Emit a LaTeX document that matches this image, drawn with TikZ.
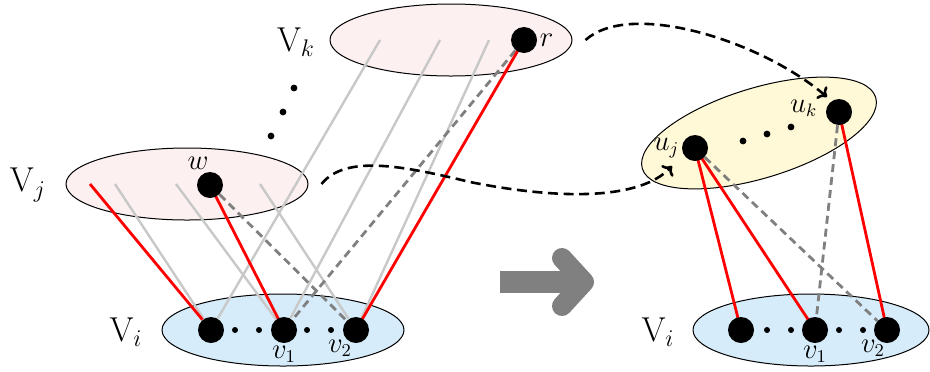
\documentclass[tikz,border=0pt]{standalone}
\usepackage{amsmath}
\usepackage{tikz}
\usetikzlibrary{arrows.meta,positioning,backgrounds,shapes.geometric}
\definecolor{setpink}{RGB}{253,240,240}
\definecolor{setblue}{RGB}{214,236,250}
\definecolor{setyellow}{RGB}{255,249,215}
\definecolor{edgegray}{RGB}{200,200,200}

\begin{document}
\begin{tikzpicture}[
  x=0.5pt, y=-0.5pt,
  vset/.style={draw,ellipse,fill=#1,line width=0.5pt,minimum width=121pt,
               minimum height=36pt,inner sep=0pt},
  vtx/.style={circle,fill=black,minimum size=13pt,inner sep=0pt},
  sdot/.style={circle,fill=black,minimum size=3pt,inner sep=0pt},
  setlbl/.style={font=\fontsize{17}{20}\selectfont,inner sep=0pt},
  lbl/.style={font=\fontsize{13.5}{15}\selectfont,inner sep=1pt},
  gedge/.style={edgegray,line width=1.2pt},
  redge/.style={red,line width=1.4pt},
  dedge/.style={gray,line width=1.4pt,dash pattern=on 4pt off 2.5pt},
  jump/.style={black,line width=1.3pt,dash pattern=on 5pt off 2.8pt,-{To[length=4pt,width=8pt]}}
]
\useasboundingbox (0,0) rectangle (930,371);

% vertex sets
\begin{scope}[on background layer]
\node[vset=setpink] (Vk) at (451,40) {};
\node[vset=setpink] (Vj) at (187,184) {};
\node[vset=setblue] (Vi) at (283,330) {};
\node[vset=setyellow,rotate=17,minimum width=122pt,minimum height=45pt] (U) at (759,133) {};
\node[vset=setblue,minimum width=118pt] (Wi) at (811,330) {};
\end{scope}

\node[setlbl] (Vklab) at (296,42) {$\mathrm{V}_k$};
\node[setlbl] (Vjlab) at (28,185) {$\mathrm{V}_j$};
\node[setlbl] (Vilab) at (126,332) {$\mathrm{V}_i$};
\node[setlbl] (Wilab) at (658,332) {$\mathrm{V}_i$};

% left: vertices
\node[vtx] (r)  at (524,40) {};
\node[vtx] (w)  at (210,185) {};
\node[vtx] (a)  at (211,330) {};
\node[vtx] (v1) at (284,330) {};
\node[vtx] (v2) at (356,330) {};
\node[lbl,right=0pt of r] (rlab) {$r$};
\node[lbl,above=0pt of w,xshift=-6pt] (wlab) {$w$};
\node[lbl,below=0pt of v1] (v1lab) {$v_1$};
\node[lbl,below=-3pt of v2,xshift=-8pt] (v2lab) {$v_2$};
\foreach \x [count=\n] in {235,259,307,331}
  \node[sdot] (ld\n) at (\x,330) {};
\foreach \x/\y [count=\n] in {294/88,283/112,271/136}
  \node[sdot,minimum size=3.4pt] (kd\n) at (\x,\y) {};

\coordinate (j0) at (90,184);
\coordinate (j1) at (115,184);
\coordinate (j2) at (176,184);
\coordinate (j3) at (260,184);
\coordinate (k1) at (380,40);
\coordinate (k2) at (440,40);
\coordinate (k3) at (489,40);

% right: vertices
\node[vtx] (uj) at (695,148) {};
\node[vtx] (uk) at (839,112) {};
\node[vtx] (b)   at (741,330) {};
\node[vtx] (bv1) at (815,330) {};
\node[vtx] (bv2) at (887,330) {};
\node[lbl,left=0pt of uj] (ujlab) {$u_j$};
\node[lbl,left=3pt of uk,yshift=2pt] (uklab) {$u_k$};
\node[lbl,below=0pt of bv1] (bv1lab) {$v_1$};
\node[lbl,below=-3pt of bv2,xshift=-7pt] (bv2lab) {$v_2$};
\foreach \x [count=\n] in {767,791,839,863}
  \node[sdot] (rd\n) at (\x,330) {};
\foreach \x/\y [count=\n] in {743/141,767/134,791/127}
  \node[sdot,minimum size=3.4pt] (ud\n) at (\x,\y) {};

% edges
\begin{scope}[on background layer]
\draw[gedge] (j1) -- (a);
\draw[gedge] (j2) -- (v1);
\draw[gedge] (j3) -- (v2);
\draw[gedge] (k1) -- (a);
\draw[gedge] (k2) -- (v1);
\draw[gedge] (k3) -- (v2);
\draw[dedge] (w) -- (v2);
\draw[dedge] (r) -- (v1);
\draw[redge] (j0) -- (a);
\draw[redge] (w.center) -- (v1.center);
\draw[redge] (r.center) -- (v2.center);

\draw[dedge] (uj) -- (bv2);
\draw[dedge] (uk) -- (bv1);
\draw[redge] (uj.center) -- (b.center);
\draw[redge] (uj.center) -- (bv1.center);
\draw[redge] (uk.center) -- (bv2.center);
\end{scope}

% merging
\coordinate (ujin) at (672,166);
\coordinate (ukin) at (827,97);
\draw[jump] ([xshift=6.5pt]Vj.east) .. controls (345,155) and (400,165) .. (470,182)
  .. controls (560,200) and (640,200) .. (ujin);
\draw[jump] ([xshift=6.5pt]Vk.east) .. controls (630,0) and (760,40) .. (ukin);

% big arrow
\fill[gray] (500,271) rectangle (578,293);
\draw[gray,line width=10pt,line cap=round,line join=round] (562,258) -- (584,282) -- (562,306);
\end{tikzpicture}
\end{document}
